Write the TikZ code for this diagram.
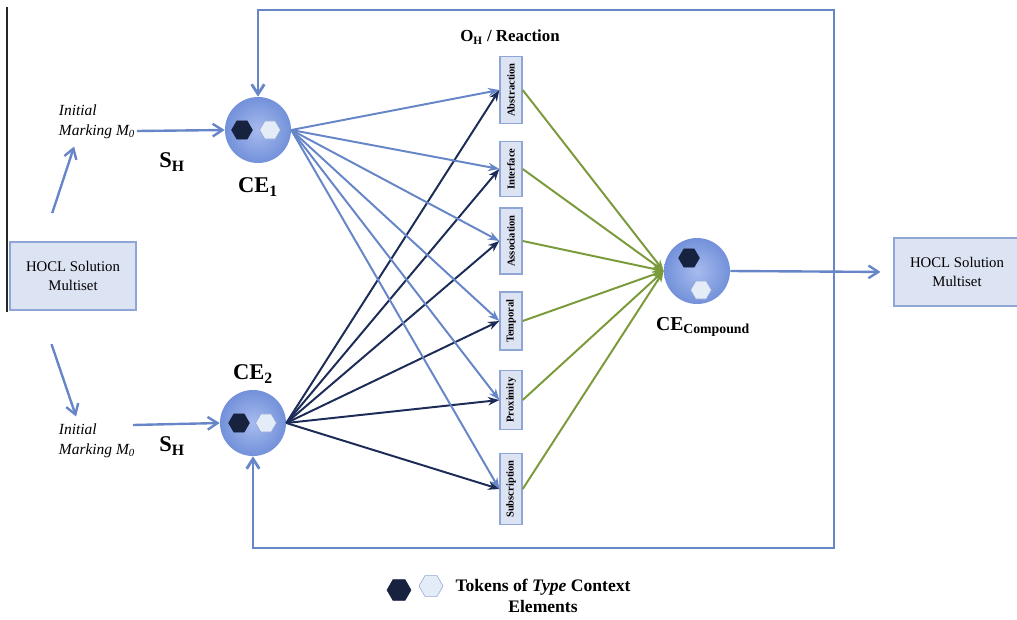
\documentclass[tikz,border=0pt]{standalone}
\usepackage{fontspec}
\setmainfont{Liberation Serif}
\usetikzlibrary{arrows.meta, positioning, shapes.geometric}

\definecolor{flowblue}{HTML}{6686C8}
\definecolor{linknavy}{HTML}{1D2C57}
\definecolor{linkgreen}{HTML}{7B9A3A}
\definecolor{boxfill}{HTML}{DCE3F3}
\definecolor{boxedge}{HTML}{8FA5D6}
\definecolor{ceinner}{HTML}{A7BBEE}
\definecolor{ceouter}{HTML}{7391DA}
\definecolor{tokdark}{HTML}{17223F}
\definecolor{toklight}{HTML}{E4EDF7}

\begin{document}
\begin{tikzpicture}[x=0.025cm, y=-0.025cm,
	hocl/.style={draw=boxedge, fill=boxfill, line width=1.2pt, minimum width=3.15cm,
		minimum height=1.7cm, align=center, font=\fontsize{10.5}{13}\selectfont},
	ce/.style={circle, inner color=ceinner, outer color=ceouter, minimum size=1.65cm},
	hexdark/.style={regular polygon, regular polygon sides=6, minimum size=0.52cm,
		inner sep=0pt, fill=tokdark, draw=tokdark},
	hexlight/.style={regular polygon, regular polygon sides=6, minimum size=0.52cm,
		inner sep=0pt, fill=toklight, draw=boxedge, line width=0.4pt},
	react/.style={draw=boxedge, fill=boxfill, line width=1pt, rotate=90,
		minimum width=1.35cm, minimum height=0.55cm, inner xsep=5pt, inner ysep=0pt,
		font=\bfseries\fontsize{7.5}{8}\selectfont},
	flow/.style={flowblue, line width=1.7pt, -{Straight Barb[length=7pt, width=9pt]}},
	bluelink/.style={flowblue, line width=1.4pt, -{Stealth[length=8pt, width=6pt]}},
	navylink/.style={linknavy, line width=1.4pt, -{Stealth[length=8pt, width=6pt]}},
	greenlink/.style={linkgreen, line width=1.4pt, -{Stealth[length=8pt, width=6pt]}},
	marking/.style={align=left, font=\itshape\fontsize{11}{14}\selectfont},
	celabel/.style={font=\bfseries\fontsize{16}{18}\selectfont}
	]
	
	% frame
	\useasboundingbox (0,0) rectangle (1017,619);
	\draw[black!85, line width=0.8pt] (7,7) -- (7,312);
	
	% solution multisets
	\node[hocl] (hoclin) at (73,276) {HOCL Solution\\Multiset};
	\node[hocl] (hoclout) at (957,272) {HOCL Solution\\Multiset};
	
	% initial markings
	\node[marking] (initone) at (97,122) {Initial\\Marking \textit{M}\textsubscript{0}};
	\node[marking] (inittwo) at (97,441) {Initial\\Marking \textit{M}\textsubscript{0}};
	
	% context elements
	\node[ce] (ceone) at (258,130) {};
	\node[ce] (cetwo) at (253,423) {};
	\node[ce] (cecomp) at (697,271) {};
	
	\node[hexdark] (tokone) at (242,130) {};
	\node[hexlight] (tokonel) at (270,130) {};
	\node[hexdark] (toktwo) at (239,423) {};
	\node[hexlight] (toktwol) at (266,423) {};
	\node[hexdark] (tokcomp) at (689,258) {};
	\node[hexlight] (tokcompl) at (701,290) {};
	
	\node[celabel] at (258,187) {CE\textsubscript{1}};
	\node[celabel] at (253,374) {CE\textsubscript{2}};
	\node[font=\bfseries\fontsize{14}{16}\selectfont] at (703,327) {CE\textsubscript{Compound}};
	\node[celabel] (shone) at (172,162) {S\textsubscript{H}};
	\node[celabel] (shtwo) at (172,446) {S\textsubscript{H}};
	
	% inputs
	\draw[flow, shorten <=21pt, shorten >=2pt] ([xshift=-0.75cm]hoclin.north) -- ([xshift=-0.55cm]initone.south);
	\draw[flow, shorten <=25pt, shorten >=2pt] ([xshift=-0.82cm]hoclin.south) -- ([xshift=-0.5cm]inittwo.north);
	\draw[flow] (137,131) -- (ceone.west);
	\draw[flow] (133,425) -- (cetwo.west);
	
	% feedback loop
	\coordinate (topright) at (834,10);
	\coordinate (botright) at (834,548);
	\draw[flowblue, line width=2pt, {Straight Barb[length=7pt, width=9pt]}-{Straight Barb[length=7pt, width=9pt]}]
		(ceone.north) |- (topright) -- (botright) -| (cetwo.south);
	
	% reactions
	\node[font=\bfseries\fontsize{12}{14}\selectfont] (reacttitle) at (510,37) {O\textsubscript{H} / Reaction};
	\foreach \n/\t/\y in {abs/Abstraction/90, intf/Interface/169, assoc/Association/241,
		temp/Temporal/321, prox/Proximity/400, subs/Subscription/489} {
		\node[react] (\n) at (511,\y) {\t};
		\draw[bluelink] (ceone.east) -- (\n.north);
		\draw[navylink] (cetwo.east) -- (\n.north);
		\draw[greenlink] (\n.south) -- (cecomp.west);
	}
	
	% output
	\draw[flow, shorten >=9pt] (cecomp.east) -- (hoclout.west);
	
	% legend
	\node[hexdark, minimum size=0.6cm] (legdark) at (399,590) {};
	\node[hexlight, minimum size=0.6cm] (leglight) at (431,586) {};
	\node[align=center, font=\bfseries\fontsize{12.5}{15}\selectfont] (legtext) at (543,596)
		{Tokens of \textit{Type} Context\\Elements};
	
\end{tikzpicture}
\end{document}
